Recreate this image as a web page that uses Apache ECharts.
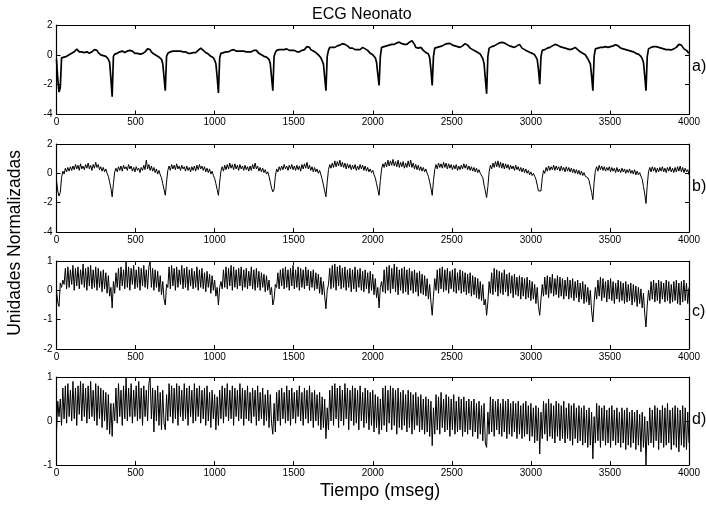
<!DOCTYPE html>
<html>
<head>
<meta charset="utf-8">
<script src="https://cdn.jsdelivr.net/npm/echarts@6/dist/echarts.min.js"></script>
<style>
  html, body { margin: 0; padding: 0; background: #fff; }
  #main { width: 706px; height: 509px; }
</style>
</head>
<body>
<div id="main"></div>
<script>
// sample step (ms) and the time at which each row (one heart beat) starts
var dt = 8;
var beatStart = [0, 16, 352, 688, 1024, 1368, 1704, 2040, 2376, 2720, 3056, 3392, 3728];

// a) ECG
var ecgA = [
  [-0.3, -1.6],
  [-2.5, -2.2, -0.2, -0.15, -0.15, -0.1, -0.1, -0.05, 0.0, 0.05, 0.1, 0.15, 0.2, 0.3, 0.38, 0.3, 0.2, 0.15, 0.2, 0.2, 0.15, 0.2, 0.2, 0.15, 0.1, 0.15, 0.2, 0.25, 0.35, 0.4, 0.3, 0.15, 0.05, 0.0, -0.02, -0.05, -0.1, -0.1, -0.15, -0.3, -0.5, -1.6],
  [-2.8, -0.1, 0.05, 0.1, 0.1, 0.15, 0.2, 0.2, 0.25, 0.2, 0.15, 0.2, 0.25, 0.28, 0.3, 0.32, 0.25, 0.15, 0.1, 0.08, 0.1, 0.08, 0.05, 0.05, 0.08, 0.1, 0.2, 0.3, 0.4, 0.45, 0.35, 0.2, 0.1, 0.05, 0.0, -0.05, -0.1, -0.15, -0.2, -0.3, -0.6, -1.5],
  [-2.4, -0.1, 0.1, 0.15, 0.2, 0.2, 0.25, 0.2, 0.25, 0.3, 0.25, 0.2, 0.25, 0.2, 0.2, 0.15, 0.2, 0.15, 0.1, 0.15, 0.1, 0.1, 0.15, 0.2, 0.15, 0.2, 0.3, 0.35, 0.45, 0.4, 0.3, 0.2, 0.15, 0.1, 0.05, -0.05, -0.1, -0.15, -0.2, -0.35, -0.6, -1.5],
  [-2.55, -0.2, 0.1, 0.15, 0.15, 0.2, 0.2, 0.15, 0.2, 0.25, 0.3, 0.3, 0.35, 0.3, 0.25, 0.3, 0.25, 0.3, 0.25, 0.2, 0.25, 0.2, 0.2, 0.15, 0.2, 0.25, 0.2, 0.25, 0.3, 0.35, 0.3, 0.2, 0.1, 0.05, 0.0, -0.05, -0.1, -0.1, -0.15, -0.2, -0.3, -0.6, -1.5],
  [-2.4, -0.1, 0.15, 0.3, 0.3, 0.35, 0.3, 0.35, 0.4, 0.35, 0.35, 0.4, 0.35, 0.3, 0.35, 0.3, 0.25, 0.3, 0.25, 0.2, 0.25, 0.2, 0.25, 0.3, 0.3, 0.35, 0.45, 0.55, 0.65, 0.5, 0.35, 0.3, 0.25, 0.2, 0.15, 0.05, 0.0, -0.1, -0.2, -0.3, -0.6, -1.5],
  [-2.4, -0.1, 0.3, 0.5, 0.45, 0.5, 0.55, 0.5, 0.5, 0.6, 0.6, 0.65, 0.7, 0.75, 0.8, 0.7, 0.65, 0.6, 0.55, 0.45, 0.4, 0.45, 0.4, 0.35, 0.3, 0.35, 0.3, 0.35, 0.45, 0.5, 0.5, 0.4, 0.3, 0.3, 0.2, 0.1, 0.05, 0.0, -0.05, -0.2, -0.5, -1.3],
  [-2.05, -0.1, 0.5, 0.55, 0.55, 0.6, 0.6, 0.65, 0.65, 0.7, 0.7, 0.65, 0.7, 0.75, 0.8, 0.8, 0.85, 0.8, 0.75, 0.7, 0.7, 0.65, 0.7, 0.75, 0.85, 0.9, 0.95, 0.9, 0.7, 0.5, 0.4, 0.45, 0.5, 0.5, 0.4, 0.3, 0.25, 0.15, 0.1, 0.05, -0.2, -1.0],
  [-2.05, -0.1, 0.45, 0.5, 0.5, 0.55, 0.55, 0.6, 0.6, 0.65, 0.7, 0.7, 0.75, 0.75, 0.77, 0.7, 0.65, 0.65, 0.6, 0.6, 0.55, 0.5, 0.5, 0.55, 0.6, 0.7, 0.75, 0.77, 0.65, 0.55, 0.45, 0.4, 0.35, 0.3, 0.25, 0.2, 0.15, 0.1, 0.05, 0.0, -0.25, -0.6, -1.6],
  [-2.6, -0.1, 0.45, 0.5, 0.55, 0.6, 0.6, 0.65, 0.7, 0.75, 0.8, 0.8, 0.83, 0.85, 0.8, 0.75, 0.7, 0.65, 0.6, 0.6, 0.55, 0.55, 0.5, 0.55, 0.6, 0.65, 0.7, 0.6, 0.45, 0.4, 0.35, 0.3, 0.25, 0.2, 0.17, 0.15, 0.1, 0.05, 0.0, -0.05, -0.3, -1.0],
  [-1.97, -0.1, 0.3, 0.35, 0.35, 0.4, 0.45, 0.5, 0.5, 0.55, 0.6, 0.65, 0.7, 0.73, 0.65, 0.6, 0.55, 0.5, 0.5, 0.5, 0.45, 0.45, 0.4, 0.4, 0.35, 0.35, 0.4, 0.45, 0.5, 0.45, 0.35, 0.25, 0.2, 0.15, 0.1, 0.06, 0.0, -0.1, -0.26, -0.35, -0.6, -1.4],
  [-2.4, -0.1, 0.4, 0.46, 0.45, 0.5, 0.5, 0.45, 0.5, 0.55, 0.55, 0.55, 0.5, 0.5, 0.55, 0.55, 0.6, 0.65, 0.68, 0.68, 0.6, 0.5, 0.45, 0.45, 0.4, 0.4, 0.35, 0.35, 0.3, 0.3, 0.25, 0.25, 0.2, 0.15, 0.1, 0.1, 0.05, 0.0, -0.1, -0.26, -0.5, -1.4],
  [-2.4, -0.1, 0.4, 0.46, 0.5, 0.5, 0.55, 0.55, 0.55, 0.5, 0.5, 0.45, 0.45, 0.45, 0.4, 0.4, 0.35, 0.4, 0.35, 0.35, 0.33, 0.35, 0.4, 0.45, 0.5, 0.6, 0.7, 0.73, 0.65, 0.55, 0.4, 0.35, 0.3, 0.2, 0.1]
];

// b)
var ecgB = [
  [-0.5, -1.2],
  [-1.55, -1.3, -0.3, 0.15, -0.05, 0.35, 0.1, 0.4, 0.15, 0.45, 0.2, 0.5, 0.25, 0.6, 0.3, 0.55, 0.2, 0.65, 0.3, 0.5, 0.25, 0.6, 0.35, 0.7, 0.3, 0.55, 0.2, 0.6, 0.35, 0.75, 0.4, 0.6, 0.25, 0.45, 0.15, 0.4, 0.1, 0.3, 0.0, -0.2, -0.6, -1.0],
  [-1.6, -0.7, 0.1, 0.35, 0.1, 0.45, 0.2, 0.5, 0.15, 0.55, 0.3, 0.45, 0.2, 0.6, 0.3, 0.5, 0.15, 0.4, 0.1, 0.45, 0.2, 0.35, 0.05, 0.4, 0.2, 0.55, 0.25, 0.9, 0.3, 0.6, 0.2, 0.5, 0.15, 0.4, 0.05, 0.3, -0.05, 0.2, -0.1, -0.3, -0.7, -1.1],
  [-1.5, -0.6, 0.2, 0.5, 0.2, 0.6, 0.3, 0.55, 0.25, 0.65, 0.3, 0.5, 0.2, 0.55, 0.3, 0.45, 0.15, 0.5, 0.2, 0.4, 0.1, 0.45, 0.2, 0.5, 0.15, 0.55, 0.25, 0.6, 0.3, 0.5, 0.2, 0.45, 0.1, 0.35, 0.05, 0.3, -0.05, 0.15, -0.15, -0.35, -0.7, -1.1],
  [-1.5, -0.6, 0.15, 0.45, 0.15, 0.55, 0.25, 0.6, 0.3, 0.7, 0.35, 0.6, 0.25, 0.65, 0.3, 0.55, 0.2, 0.6, 0.3, 0.5, 0.2, 0.55, 0.25, 0.45, 0.15, 0.5, 0.2, 0.6, 0.3, 0.7, 0.3, 0.5, 0.15, 0.4, 0.1, 0.35, 0.05, 0.25, -0.05, 0.1, -0.2, -0.6, -1.0],
  [-1.26, -1.1, -0.2, 0.3, 0.1, 0.45, 0.2, 0.5, 0.25, 0.6, 0.3, 0.5, 0.2, 0.55, 0.3, 0.6, 0.25, 0.5, 0.2, 0.55, 0.25, 0.5, 0.15, 0.6, 0.3, 0.65, 0.35, 0.75, 0.3, 0.55, 0.2, 0.45, 0.1, 0.4, 0.1, 0.3, 0.0, 0.2, -0.1, -0.4, -0.8, -1.2],
  [-1.6, -0.6, 0.25, 0.6, 0.35, 0.7, 0.4, 0.85, 0.45, 0.8, 0.5, 0.9, 0.45, 0.75, 0.4, 0.7, 0.3, 0.65, 0.35, 0.6, 0.25, 0.55, 0.3, 0.6, 0.2, 0.5, 0.25, 0.6, 0.3, 0.55, 0.2, 0.5, 0.15, 0.4, 0.1, 0.3, 0.05, 0.2, -0.1, -0.3, -0.7, -1.1],
  [-1.5, -0.5, 0.3, 0.65, 0.4, 0.75, 0.45, 0.9, 0.5, 0.85, 0.55, 0.95, 0.5, 0.8, 0.45, 0.9, 0.4, 0.75, 0.45, 0.8, 0.35, 0.7, 0.4, 0.85, 0.45, 0.9, 0.4, 0.7, 0.3, 0.6, 0.25, 0.55, 0.2, 0.45, 0.15, 0.4, 0.1, 0.3, 0.0, -0.2, -0.6, -1.0],
  [-1.5, -0.5, 0.25, 0.6, 0.3, 0.7, 0.4, 0.65, 0.35, 0.75, 0.4, 0.7, 0.3, 0.65, 0.35, 0.6, 0.25, 0.55, 0.3, 0.6, 0.2, 0.5, 0.25, 0.55, 0.3, 0.65, 0.35, 0.6, 0.25, 0.5, 0.2, 0.45, 0.15, 0.4, 0.1, 0.35, 0.05, 0.25, 0.0, 0.1, -0.3, -0.8, -1.2],
  [-1.65, -0.9, 0.1, 0.55, 0.3, 0.7, 0.4, 0.8, 0.45, 0.85, 0.4, 0.75, 0.35, 0.7, 0.3, 0.65, 0.35, 0.6, 0.25, 0.55, 0.3, 0.5, 0.2, 0.55, 0.25, 0.45, 0.15, 0.4, 0.1, 0.35, 0.05, 0.3, 0.0, 0.2, -0.1, 0.1, -0.15, 0.0, -0.2, -0.4, -0.8, -1.2],
  [-1.3, -1.2, -0.3, 0.2, 0.0, 0.4, 0.15, 0.5, 0.2, 0.45, 0.25, 0.55, 0.2, 0.5, 0.25, 0.45, 0.15, 0.5, 0.2, 0.4, 0.1, 0.45, 0.15, 0.4, 0.1, 0.35, 0.05, 0.3, 0.0, 0.25, -0.05, 0.2, -0.1, 0.15, -0.15, 0.05, -0.2, -0.1, -0.3, -0.5, -0.9, -1.3],
  [-1.8, -0.6, 0.2, 0.45, 0.15, 0.55, 0.25, 0.5, 0.2, 0.45, 0.15, 0.4, 0.2, 0.45, 0.1, 0.4, 0.15, 0.35, 0.05, 0.4, 0.1, 0.3, 0.05, 0.35, 0.1, 0.3, 0.0, 0.25, 0.05, 0.3, 0.0, 0.2, -0.05, 0.25, -0.1, 0.15, -0.1, 0.05, -0.2, -0.4, -0.9, -1.4],
  [-2.05, -0.8, 0.1, 0.4, 0.1, 0.45, 0.15, 0.4, 0.05, 0.35, 0.1, 0.4, 0.15, 0.45, 0.1, 0.35, 0.05, 0.4, 0.15, 0.45, 0.1, 0.35, 0.05, 0.4, 0.1, 0.45, 0.15, 0.5, 0.1, 0.4, 0.05, 0.35, 0.1, 0.25, -0.1]
];

// c)
var ecgC = [
  [0.0, -0.4],
  [-0.55, 0.25, 0.1, 0.35, 0.2, 0.75, 0.05, 0.8, 0.1, 0.7, 0.2, 0.85, 0.0, 0.75, 0.15, 0.8, 0.05, 0.7, 0.2, 0.9, 0.1, 0.75, 0.0, 0.8, 0.15, 0.85, 0.05, 0.7, 0.1, 0.8, 0.0, 0.75, 0.1, 0.65, -0.05, 0.7, 0.05, 0.6, -0.1, 0.5, -0.2, 0.1],
  [-0.6, 0.3, -0.1, 0.6, 0.1, 0.75, 0.0, 0.8, 0.15, 0.7, 0.05, 1.0, 0.1, 0.8, 0.0, 0.75, 0.2, 0.85, 0.05, 0.7, 0.1, 0.8, 0.0, 0.75, 0.15, 0.85, 0.1, 0.7, 0.05, 0.8, 1.0, 0.1, 0.75, 0.0, 0.7, 0.1, 0.65, -0.05, 0.5, -0.15, 0.3, -0.3],
  [-0.5, 0.2, 0.1, 0.8, 0.05, 0.85, 0.15, 0.75, 0.0, 0.8, 0.1, 0.7, 0.2, 0.85, 0.05, 0.75, 0.1, 0.8, 0.0, 0.7, 0.15, 0.75, 0.05, 0.65, 0.1, 0.8, 0.0, 0.7, 0.1, 0.75, 0.05, 0.6, -0.05, 0.65, 0.1, 0.55, -0.1, 0.5, 0.0, 0.35, -0.2, 0.1],
  [-0.5, 0.1, 0.3, 0.05, 0.7, 0.1, 0.8, 0.05, 0.75, 0.15, 0.85, 0.0, 0.8, 0.1, 0.7, 0.05, 0.75, 0.15, 0.8, 0.0, 0.7, 0.1, 0.75, 0.05, 0.65, 0.15, 0.8, 0.05, 0.7, 0.0, 0.75, 0.1, 0.65, 0.0, 0.6, 0.1, 0.55, -0.05, 0.5, 0.0, 0.35, -0.15, 0.1],
  [-0.5, -0.3, 0.2, 0.1, 0.6, 0.05, 0.7, 0.15, 0.75, 0.05, 0.8, 0.1, 0.7, 0.0, 0.75, 0.15, 0.85, 0.05, 0.7, 0.1, 0.8, 0.0, 0.75, 0.1, 0.7, 0.05, 0.8, 0.15, 0.7, 0.0, 0.65, 0.1, 0.7, 0.0, 0.6, 0.05, 0.55, -0.1, 0.45, -0.15, 0.3, -0.2],
  [-0.63, 0.0, 0.2, 0.75, 0.05, 0.85, 0.1, 0.9, 0.0, 0.8, 0.15, 0.85, 0.05, 0.75, 0.1, 0.8, 0.0, 0.7, 0.1, 0.75, -0.05, 0.7, 0.05, 0.8, -0.05, 0.7, 0.1, 0.75, 0.0, 0.65, -0.05, 0.7, 0.05, 0.6, -0.1, 0.65, 0.0, 0.55, -0.15, 0.4, -0.25, 0.1],
  [-0.6, 0.1, 0.3, -0.05, 0.7, -0.1, 0.8, 0.0, 0.85, -0.1, 0.75, 0.05, 0.9, -0.05, 0.8, -0.15, 0.7, 0.0, 0.75, -0.1, 0.8, -0.05, 0.7, -0.15, 0.75, 0.0, 0.65, -0.1, 0.7, -0.05, 0.6, -0.2, 0.65, -0.1, 0.55, -0.15, 0.5, -0.2, 0.4, -0.3, 0.2, -0.4],
  [-0.85, -0.2, 0.4, 0.0, 0.7, -0.1, 0.75, 0.05, 0.8, -0.05, 0.7, 0.0, 0.75, -0.1, 0.65, 0.05, 0.7, -0.05, 0.75, -0.1, 0.6, 0.0, 0.7, -0.1, 0.65, -0.05, 0.6, -0.15, 0.55, -0.1, 0.6, -0.2, 0.5, -0.15, 0.45, -0.25, 0.4, -0.3, 0.3, -0.35, 0.2, -0.5, -0.3],
  [-0.85, -0.4, 0.3, -0.1, 0.6, -0.15, 0.75, -0.05, 0.7, -0.2, 0.65, -0.1, 0.6, -0.15, 0.7, -0.05, 0.55, -0.2, 0.6, -0.1, 0.5, -0.25, 0.55, -0.15, 0.45, -0.2, 0.5, -0.3, 0.45, -0.2, 0.4, -0.3, 0.45, -0.25, 0.35, -0.35, 0.3, -0.3, 0.2, -0.45, 0.1, -0.55],
  [-0.85, -0.3, 0.2, -0.2, 0.45, -0.15, 0.5, -0.25, 0.45, -0.1, 0.55, -0.2, 0.4, -0.15, 0.5, -0.25, 0.45, -0.2, 0.4, -0.3, 0.35, -0.2, 0.45, -0.3, 0.35, -0.25, 0.4, -0.35, 0.3, -0.25, 0.35, -0.4, 0.25, -0.3, 0.3, -0.45, 0.2, -0.4, 0.1, -0.5, 0.0, -0.7],
  [-1.08, -0.4, 0.1, -0.3, 0.35, -0.2, 0.45, -0.35, 0.4, -0.25, 0.3, -0.4, 0.35, -0.3, 0.4, -0.35, 0.3, -0.45, 0.25, -0.3, 0.35, -0.4, 0.3, -0.35, 0.25, -0.45, 0.3, -0.4, 0.2, -0.35, 0.25, -0.5, 0.2, -0.4, 0.15, -0.55, 0.1, -0.45, 0.05, -0.6, -0.1, -0.8],
  [-1.25, -0.5, 0.0, -0.35, 0.3, -0.3, 0.35, -0.4, 0.25, -0.35, 0.35, -0.45, 0.3, -0.3, 0.25, -0.4, 0.35, -0.35, 0.3, -0.45, 0.2, -0.4, 0.3, -0.35, 0.35, -0.45, 0.25, -0.5, 0.3, -0.4, 0.35, -0.35, 0.25, -0.45, 0.1]
];

// d)
var ecgD = [
  [-0.25, 0.45],
  [0.1, 0.5, -0.1, 0.75, 0.05, 0.8, -0.05, 0.85, 0.1, 0.7, 0.0, 0.9, 0.05, 0.75, -0.1, 0.8, 0.15, 0.9, 0.0, 0.85, 0.1, 0.75, -0.05, 0.8, 0.05, 0.9, 0.1, 0.7, 0.0, 0.85, -0.1, 0.8, 0.05, 0.75, -0.15, 0.7, 0.0, 0.65, -0.2, 0.6, -0.3, 0.4],
  [-0.35, 0.4, 0.0, 0.75, -0.05, 0.85, 0.1, 0.7, -0.1, 0.8, 0.05, 1.0, 0.0, 0.75, 0.1, 0.85, -0.05, 0.7, 0.1, 0.8, 0.0, 0.9, 0.05, 0.75, -0.1, 0.8, 0.1, 0.7, 0.0, 0.85, 1.0, 0.05, 0.75, -0.25, 0.7, 0.0, 0.8, -0.1, 0.65, -0.2, 0.7, -0.05],
  [-0.2, 0.6, 0.0, 0.85, 0.1, 0.8, -0.05, 0.75, 0.05, 0.85, -0.1, 0.8, 0.1, 0.7, 0.0, 0.85, 0.05, 0.75, -0.1, 0.8, 0.1, 0.7, -0.05, 0.85, 0.0, 0.75, 0.1, 0.8, -0.05, 0.7, 0.05, 0.75, -0.1, 0.8, 0.0, 0.65, -0.15, 0.7, 0.05, 0.6, -0.2, 0.55],
  [-0.1, 0.7, 0.05, 0.8, -0.05, 0.75, 0.1, 0.85, 0.0, 0.7, 0.05, 0.8, -0.1, 0.75, 0.1, 0.7, 0.0, 0.85, 0.05, 0.75, -0.1, 0.7, 0.05, 0.8, 0.0, 0.65, -0.05, 0.75, 0.1, 0.7, -0.1, 0.8, 0.0, 0.65, 0.05, 0.75, -0.1, 0.6, 0.0, 0.7, -0.15, 0.6, -0.05],
  [-0.3, 0.4, -0.25, 0.65, 0.0, 0.7, -0.1, 0.75, 0.05, 0.65, -0.05, 0.8, 0.0, 0.7, -0.1, 0.75, 0.05, 0.65, -0.05, 0.7, 0.1, 0.8, 0.0, 0.65, -0.1, 0.75, 0.05, 0.7, -0.05, 0.8, 0.0, 0.65, -0.15, 0.7, 0.0, 0.6, -0.1, 0.65, -0.2, 0.55, -0.15, 0.5],
  [-0.4, 0.3, -0.2, 0.7, 0.0, 0.8, -0.1, 0.85, 0.05, 0.75, -0.15, 0.8, 0.0, 0.7, -0.1, 0.85, 0.05, 0.75, -0.2, 0.7, 0.0, 0.8, -0.1, 0.75, -0.05, 0.7, -0.2, 0.8, 0.0, 0.65, -0.15, 0.75, -0.05, 0.7, -0.2, 0.65, -0.1, 0.7, -0.25, 0.6, -0.15, 0.55],
  [-0.3, 0.5, -0.2, 0.75, -0.1, 0.8, -0.25, 0.7, -0.05, 0.8, -0.2, 0.75, -0.1, 0.7, -0.3, 0.75, -0.15, 0.65, -0.2, 0.7, -0.1, 0.6, -0.25, 0.7, -0.15, 0.65, -0.3, 0.6, -0.2, 0.65, -0.1, 0.55, -0.25, 0.6, -0.2, 0.5, -0.3, 0.55, -0.25, 0.5, -0.35, 0.45],
  [-0.56, 0.3, -0.3, 0.6, -0.2, 0.55, -0.3, 0.65, -0.15, 0.5, -0.25, 0.6, -0.2, 0.55, -0.35, 0.5, -0.2, 0.6, -0.3, 0.45, -0.25, 0.55, -0.2, 0.5, -0.35, 0.55, -0.25, 0.45, -0.3, 0.5, -0.2, 0.45, -0.35, 0.5, -0.25, 0.4, -0.4, 0.45, -0.3, 0.35, -0.45, 0.4, -0.5],
  [-0.6, 0.2, -0.3, 0.55, -0.25, 0.5, -0.35, 0.45, -0.2, 0.5, -0.3, 0.4, -0.35, 0.5, -0.25, 0.45, -0.4, 0.5, -0.3, 0.4, -0.35, 0.45, -0.25, 0.4, -0.4, 0.45, -0.3, 0.35, -0.4, 0.4, -0.35, 0.45, -0.3, 0.35, -0.45, 0.4, -0.35, 0.3, -0.5, 0.35, -0.45, 0.3],
  [-0.75, 0.2, -0.4, 0.45, -0.3, 0.4, -0.45, 0.5, -0.35, 0.4, -0.4, 0.35, -0.5, 0.45, -0.35, 0.4, -0.45, 0.35, -0.4, 0.45, -0.5, 0.3, -0.4, 0.4, -0.45, 0.35, -0.55, 0.4, -0.4, 0.3, -0.5, 0.35, -0.45, 0.3, -0.55, 0.35, -0.5, 0.25, -0.6, 0.3, -0.55, 0.2],
  [-0.86, 0.1, -0.5, 0.4, -0.45, 0.35, -0.6, 0.3, -0.45, 0.35, -0.55, 0.25, -0.5, 0.3, -0.6, 0.35, -0.45, 0.25, -0.55, 0.3, -0.5, 0.2, -0.6, 0.3, -0.5, 0.25, -0.65, 0.3, -0.55, 0.2, -0.6, 0.25, -0.5, 0.2, -0.65, 0.25, -0.55, 0.15, -0.7, 0.2, -0.6, 0.1],
  [-1.0, 0.0, -0.55, 0.3, -0.5, 0.25, -0.6, 0.35, -0.45, 0.3, -0.65, 0.25, -0.5, 0.35, -0.6, 0.3, -0.55, 0.4, -0.5, 0.25, -0.65, 0.3, -0.55, 0.35, -0.6, 0.3, -0.7, 0.25, -0.55, 0.35, -0.6, 0.3, -0.65, 0.2, -0.5]
];

var xTicks = [0, 4000, 500];
var panelNames = ['a)', 'b)', 'c)', 'd)'];

function toPoints(rows){
	var pts = [];
	rows.forEach(function(r, k){
		r.forEach(function(v, j){
			pts.push([beatStart[k] + j * dt, v]);
		});
	});
	return pts;
}

var FONT = '"Liberation Sans", Arial, sans-serif';
var panels = [
	{rows: ecgA, top: 25, h: 89.5, min: -4, max: 2, step: 2, lw: 1.7, tag: 68},
	{rows: ecgB, top: 144, h: 88, min: -4, max: 2, step: 2, lw: 1, tag: 188},
	{rows: ecgC, top: 261, h: 88, min: -2, max: 1, step: 1, lw: 1, tag: 313},
	{rows: ecgD, top: 377, h: 88, min: -1, max: 1, step: 1, lw: 1, tag: 421}
];

var grid = [], xAxis = [], yAxis = [], series = [], graphic = [];
var axLine = {onZero: false, lineStyle: {color: '#000', width: 1.2}};
var tick = {inside: true, length: 4, lineStyle: {color: '#000', width: 1}};

panels.forEach(function(p, i){
	grid.push({left: 56.5, right: 17, top: p.top, height: p.h});
	xAxis.push({
		gridIndex: i, type: 'value', position: 'bottom',
		min: xTicks[0], max: xTicks[1], interval: xTicks[2],
		axisLine: axLine, axisTick: tick, splitLine: {show: false},
		axisLabel: {color: '#000', fontSize: 10, fontFamily: FONT, margin: 3,
			formatter: function(v){ return String(v); }}
	});
	xAxis.push({
		gridIndex: i, type: 'value', position: 'top',
		min: xTicks[0], max: xTicks[1], interval: xTicks[2],
		axisLine: axLine, axisTick: tick, splitLine: {show: false},
		axisLabel: {show: false}
	});
	yAxis.push({
		gridIndex: i, type: 'value', position: 'left',
		min: p.min, max: p.max, interval: p.step,
		axisLine: axLine, axisTick: tick, splitLine: {show: false},
		axisLabel: {color: '#000', fontSize: 10, fontFamily: FONT, margin: 4}
	});
	yAxis.push({
		gridIndex: i, type: 'value', position: 'right',
		min: p.min, max: p.max, interval: p.step,
		axisLine: axLine, axisTick: tick, splitLine: {show: false},
		axisLabel: {show: false}
	});
	series.push({
		type: 'line', xAxisIndex: i * 2, yAxisIndex: i * 2,
		data: toPoints(p.rows), showSymbol: false, symbol: 'none',
		lineStyle: {color: '#000', width: p.lw}, clip: true
	});
	graphic.push({
		type: 'text', left: 692, top: p.tag - 9,
		style: {text: panelNames[i], font: '16px ' + FONT, fill: '#000'}
	});
});

graphic.push({
	type: 'text', left: 312, top: 7,
	style: {text: 'ECG Neonato', font: '16px ' + FONT, fill: '#000'}
});
graphic.push({
	type: 'text', left: 320, top: 482,
	style: {text: 'Tiempo (mseg)', font: '18px ' + FONT, fill: '#000'}
});
graphic.push({
	type: 'text', left: 6, top: 150, rotation: Math.PI / 2,
	style: {text: 'Unidades Normalizadas', font: '17.5px ' + FONT, fill: '#000'}
});

var myChart = echarts.init(document.getElementById('main'));
myChart.setOption({
	animation: false,
	backgroundColor: '#fff',
	grid: grid,
	xAxis: xAxis,
	yAxis: yAxis,
	series: series,
	graphic: graphic
});
</script>
</body>
</html>
